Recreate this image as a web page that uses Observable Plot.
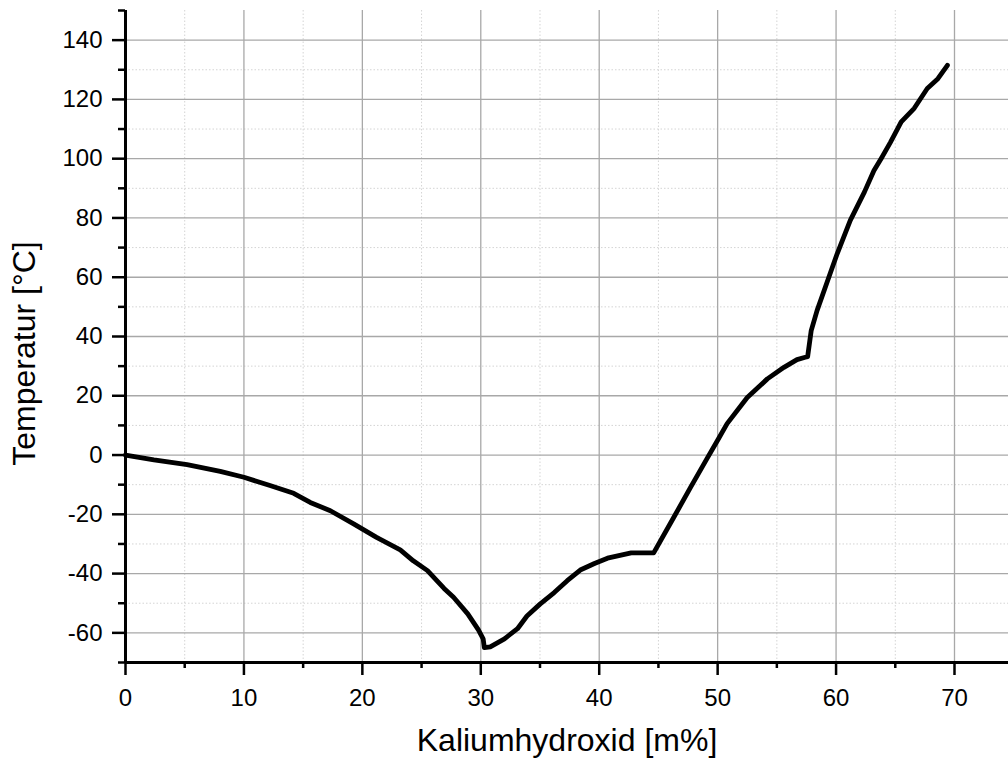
<!DOCTYPE html>
<html>
<head>
<meta charset="utf-8">
<script src="https://cdn.jsdelivr.net/npm/d3@7"></script>
<script src="https://cdn.jsdelivr.net/npm/@observablehq/plot@0.6"></script>
<style>
  html, body { margin: 0; padding: 0; background: #fff; }
  svg { display: block; }
</style>
</head>
<body>
<div id="chart"></div>
<script>
// KOH mass fraction [m%]
const kohPercent = [0, 2.4, 5.2, 8.0, 10.0, 12.2, 14.2, 15.6, 17.3, 19.3, 21.2, 23.2, 24.3, 25.5, 26.9, 27.7, 28.9, 29.8, 30.2, 30.3, 30.8, 32.0, 33.1, 33.9, 35.0, 36.2, 37.3, 38.4, 39.6, 40.7, 42.7, 44.6, 46.3, 47.7, 49.1, 50.0, 50.8, 52.5, 54.2, 55.6, 56.7, 57.4, 57.6, 57.9, 58.4, 59.3, 60.1, 61.2, 62.4, 63.2, 63.8, 64.6, 65.5, 66.6, 67.7, 68.6, 69.4];
// Temperature [°C]
const temperature = [0, -1.6, -3.2, -5.5, -7.5, -10.3, -12.9, -16.0, -18.8, -23.3, -27.8, -32.0, -35.7, -39.0, -45.0, -48.0, -53.6, -59.0, -62.0, -65.0, -64.7, -62.0, -58.6, -54.3, -50.3, -46.4, -42.4, -38.8, -36.6, -34.8, -33.0, -33.0, -21.0, -11.0, -1.2, 5.0, 10.6, 19.4, 25.7, 29.6, 32.2, 33.0, 33.2, 42.0, 48.8, 59.0, 68.0, 79.2, 88.8, 96.0, 100.0, 105.6, 112.4, 117.0, 123.7, 127.0, 131.5];

const xMajorTicks = [0, 10, 20, 30, 40, 50, 60, 70];
const xMinorTicks = [5, 15, 25, 35, 45, 55, 65];
const yMajorTicks = [-60, -40, -20, 0, 20, 40, 60, 80, 100, 120, 140];
const yMinorTicks = [-70, -50, -30, -10, 10, 30, 50, 70, 90, 110, 130, 150];
const xTitle = "Kaliumhydroxid [m%]";
const yTitle = "Temperatur [°C]";

const data = kohPercent.map((x, i) => ({x, t: temperature[i]}));

const font = "'Liberation Sans', Arial, Helvetica, sans-serif";
const fmt = d => String(d);
const empty = () => "";

const chart = Plot.plot({
  width: 1008,
  height: 767,
  marginLeft: 125,
  marginRight: 0,
  marginTop: 10,
  marginBottom: 105,
  style: {fontFamily: font, background: "#fff", color: "#000"},
  x: {domain: [0, 74.56]},
  y: {domain: [-70, 150]},
  marks: [
    // minor grid (dotted)
    Plot.ruleX(xMinorTicks, {stroke: "#d4d4d4", strokeWidth: 1, strokeDasharray: "1.5,2"}),
    Plot.ruleY(yMinorTicks.filter(v => v > -70 && v < 150), {stroke: "#d4d4d4", strokeWidth: 1, strokeDasharray: "1.5,2"}),
    // major grid
    Plot.ruleX(xMajorTicks.filter(v => v > 0), {stroke: "#a8a8a8", strokeWidth: 1.3}),
    Plot.ruleY(yMajorTicks, {stroke: "#a8a8a8", strokeWidth: 1.3}),
    // curve
    Plot.line(data, {x: "x", y: "t", stroke: "#000", strokeWidth: 4.8, strokeLinejoin: "round", strokeLinecap: "round"}),
    // axes lines
    Plot.ruleX([0], {stroke: "#000", strokeWidth: 3}),
    Plot.ruleY([-70], {stroke: "#000", strokeWidth: 3}),
    // major ticks
    Plot.axisX(xMajorTicks, {tickSize: 13, tickFormat: empty, strokeWidth: 2.5, label: null}),
    Plot.axisY(yMajorTicks, {tickSize: 13, tickFormat: empty, strokeWidth: 2.5, label: null}),
    // minor ticks
    Plot.axisX(xMinorTicks, {tickSize: 6, tickFormat: empty, strokeWidth: 2.5, label: null}),
    Plot.axisY(yMinorTicks, {tickSize: 7, tickFormat: empty, strokeWidth: 2.5, label: null}),
    // tick labels
    Plot.text(xMajorTicks, {x: d => d, text: fmt, frameAnchor: "bottom", lineAnchor: "top", dy: 26, fontSize: 24, fill: "#000"}),
    Plot.text(yMajorTicks, {y: d => d, text: fmt, frameAnchor: "left", textAnchor: "end", dx: -23, fontSize: 24, fill: "#000"}),
    // axis titles
    Plot.text([xTitle], {frameAnchor: "bottom", dy: 88, fontSize: 32, fill: "#000"}),
    Plot.text([yTitle], {frameAnchor: "left", textAnchor: "middle", dx: -101, dy: 17, rotate: -90, fontSize: 32, fill: "#000"})
  ]
});

document.getElementById("chart").appendChild(chart);
</script>
</body>
</html>
